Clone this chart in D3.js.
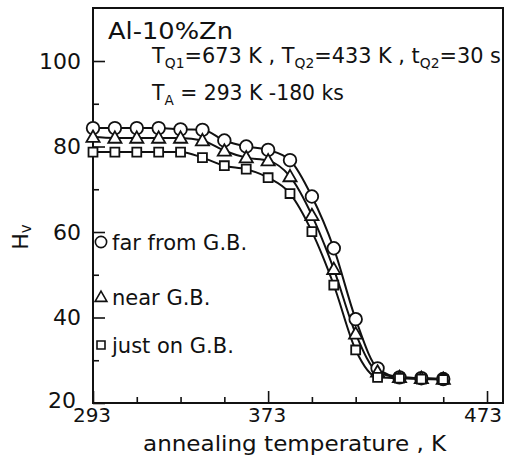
<!DOCTYPE html>
<html><head><meta charset="utf-8">
<script src="https://cdn.jsdelivr.net/npm/d3@7"></script>
<style>body{margin:0;background:#fff}svg{display:block}text{font-family:"DejaVu Sans",sans-serif;fill:#111}</style>
</head><body><svg id="c" width="513" height="458"></svg>
<script>
const temps = [293,303,313,323,333,343,353,363,373,383,393,403,413,423,433,443,453];
const farFromGB = [84.3,84.3,84.3,84.3,84.0,83.9,81.4,80.0,79.2,76.8,68.3,56.2,39.6,28.1,26.0,25.8,25.6];
const nearGB   = [82.2,82.0,82.0,82.0,82.0,81.4,79.0,77.4,76.7,73.0,63.9,51.3,36.2,27.3,26.0,25.8,25.6];
const justOnGB = [78.7,78.7,78.7,78.7,78.7,77.4,75.5,74.7,72.7,69.0,60.1,47.6,32.4,26.0,25.8,25.6,25.5];
const xMajor = [293,373,473];
const xMinor = [313,333,353,393,413,433,453];
const yMajor = [20,40,60,80,100];
const yMinor = [30,50,70,90];
const legendLabels = ["far from G.B.","near G.B.","just on G.B."];

const svg = d3.select("#c");
const L=93,R=503,T=8,B=403;
const x = d3.scaleLinear().domain([293,480.3]).range([L,R]);
const y = d3.scaleLinear().domain([20,112.4]).range([B,T]);

function fit(sel,x0,x1){
  const w = sel.node().getBBox().width;
  const sx = (x1-x0)/w;
  const g = svg.append("g").attr("transform",`translate(${x0},0) scale(${sx},1) translate(${-x0},0)`);
  g.node().appendChild(sel.node());
}

svg.append("rect").attr("x",L).attr("y",T).attr("width",R-L).attr("height",B-T)
  .attr("fill","none").attr("stroke","#111").attr("stroke-width",2);

function styleAxis(g){g.select(".domain").remove();g.selectAll("line").attr("stroke","#111").attr("stroke-width",1.6);g.selectAll("text").remove();}
svg.append("g").attr("transform",`translate(0,${B})`).call(d3.axisBottom(x).tickValues(xMajor).tickSize(-12)).call(styleAxis);
svg.append("g").attr("transform",`translate(0,${B})`).call(d3.axisBottom(x).tickValues(xMinor).tickSize(-6)).call(styleAxis);
svg.append("g").attr("transform",`translate(${L},0)`).call(d3.axisLeft(y).tickValues(yMajor).tickSize(-12)).call(styleAxis);
svg.append("g").attr("transform",`translate(${L},0)`).call(d3.axisLeft(y).tickValues(yMinor).tickSize(-6)).call(styleAxis);

yMajor.forEach(v=>{
  const low = v===20;
  svg.append("text").attr("x",low?76:81).attr("y",y(v)+(low?-3:0)).attr("dy","0.36em")
    .attr("text-anchor","end").attr("font-size",22).text(v);
});
xMajor.forEach(v=>{
  svg.append("text").attr("x",x(v)-(v===473?4:1)).attr("y",422).attr("text-anchor","middle")
    .attr("font-size",20).text(v);
});
const xt = svg.append("text").attr("x",143).attr("y",451).attr("font-size",22)
  .text("annealing temperature , K");
fit(xt,143,447);
const yt = svg.append("text").attr("transform","translate(28,237) rotate(-90)").attr("text-anchor","middle").attr("font-size",22);
yt.append("tspan").text("H");
yt.append("tspan").attr("font-size",15).attr("dy",3).text("v");

const a1 = svg.append("text").attr("x",108).attr("y",39).attr("font-size",23).text("Al-10%Zn");
fit(a1,108,233);
function sub(t,s,rest){t.append("tspan").text(s[0]);t.append("tspan").attr("font-size",14).attr("dy",5).text(s[1]);t.append("tspan").attr("dy",-5).text(rest);}
const a2 = svg.append("text").attr("x",152).attr("y",63).attr("font-size",21);
sub(a2,["T","Q1"],"=673 K , ");
sub(a2,["T","Q2"],"=433 K , ");
sub(a2,["t","Q2"],"=30 s");
fit(a2,152,502);
const a3 = svg.append("text").attr("x",152).attr("y",100).attr("font-size",21);
sub(a3,["T","A"]," = 293 K -180 ks");
fit(a3,152,345);

const series = [farFromGB,nearGB,justOnGB];
const shapes = [d3.symbolCircle,d3.symbolTriangle,d3.symbolSquare];
const sizes = [125,75,80];
const line = d3.line().x((d,i)=>x(temps[i])).y(d=>y(d)).curve(d3.curveMonotoneX);
series.forEach(s=>{
  svg.append("path").attr("d",line(s)).attr("fill","none").attr("stroke","#111").attr("stroke-width",2);
});
series.forEach((s,k)=>{
  svg.append("g").selectAll("path").data(s).join("path")
    .attr("transform",(d,i)=>`translate(${x(temps[i])},${y(d)+(k===1?1:0)})`)
    .attr("d",d3.symbol().type(shapes[k]).size(sizes[k]))
    .attr("fill","#fff").attr("stroke","#111").attr("stroke-width",1.8);
});

const ly = [242,297,345];
legendLabels.forEach((lab,k)=>{
  svg.append("path").attr("transform",`translate(101,${ly[k]+(k===1?1:0)})`)
    .attr("d",d3.symbol().type(shapes[k]).size(sizes[k]*0.8))
    .attr("fill","#fff").attr("stroke","#111").attr("stroke-width",1.6);
  svg.append("text").attr("x",112).attr("y",ly[k]).attr("dy","0.36em").attr("font-size",21).text(lab);
});
</script></body></html>
